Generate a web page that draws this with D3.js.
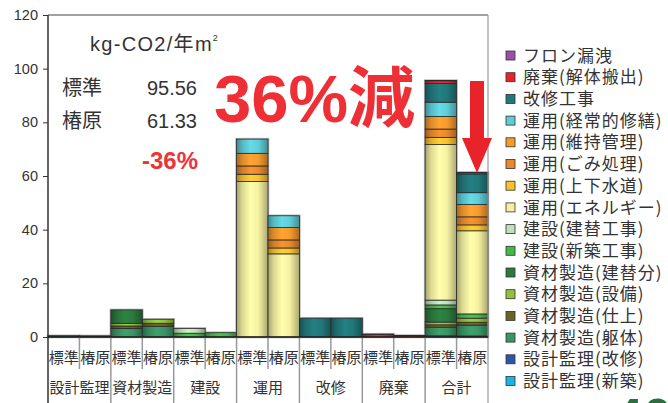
<!DOCTYPE html>
<html>
<head>
<meta charset="utf-8">
<script src="https://cdn.jsdelivr.net/npm/d3@7"></script>
<style>
  body { margin: 0; background: #fff; }
  svg { display: block; }
  text { font-family: "Liberation Sans", Arial, "Noto Sans CJK JP", sans-serif; fill: #333; }
  .jp { font-family: "Noto Sans CJK JP", sans-serif; }
</style>
</head>
<body>
<div id="chart"></div>
<script>
// categories / cases
const categories = ["設計監理", "資材製造", "建設", "運用", "改修", "廃棄", "合計"];
const cases = ["標準", "椿原"];
const yTicks = [0, 20, 40, 60, 80, 100, 120];

// series values, 14 bars: [設計監理 標準, 椿原, 資材製造 標準, 椿原, ... 合計 標準, 椿原]
const sekkeiShinchiku = [0.35, 0.3, 0, 0, 0, 0, 0, 0, 0, 0, 0, 0, 0.35, 0.3];
const sekkeiKaishu    = [0.1, 0.1, 0, 0, 0, 0, 0, 0, 0, 0, 0, 0, 0.1, 0.1];
const shizaiKutai     = [0, 0, 3.2, 4.0, 0, 0, 0, 0, 0, 0, 0, 0, 3.2, 4.0];
const shizaiShiage    = [0, 0, 0.9, 1.1, 0, 0, 0, 0, 0, 0, 0, 0, 0.9, 1.1];
const shizaiSetsubi   = [0, 0, 1.0, 1.5, 0, 0, 0, 0, 0, 0, 0, 0, 1.0, 1.5];
const shizaiTatekae   = [0, 0, 5.0, 0, 0, 0, 0, 0, 0, 0, 0, 0, 5.0, 0];
const kensetsuShin    = [0, 0, 0, 0, 1.4, 1.6, 0, 0, 0, 0, 0, 0, 1.4, 1.6];
const kensetsuTatekae = [0, 0, 0, 0, 1.8, 0, 0, 0, 0, 0, 0, 0, 1.8, 0];
const unyoEnergy      = [0, 0, 0, 0, 0, 0, 57.95, 30.98, 0, 0, 0, 0, 57.95, 30.98];
const unyoSuido       = [0, 0, 0, 0, 0, 0, 2.7, 2.2, 0, 0, 0, 0, 2.7, 2.2];
const unyoGomi        = [0, 0, 0, 0, 0, 0, 3.1, 3.0, 0, 0, 0, 0, 3.1, 3.0];
const unyoIji         = [0, 0, 0, 0, 0, 0, 4.7, 4.6, 0, 0, 0, 0, 4.7, 4.6];
const unyoShuzen      = [0, 0, 0, 0, 0, 0, 5.3, 4.4, 0, 0, 0, 0, 5.3, 4.4];
const kaishuKoji      = [0, 0, 0, 0, 0, 0, 0, 0, 7.0, 7.0, 0, 0, 7.0, 7.0];
const haiki           = [0, 0, 0, 0, 0, 0, 0, 0, 0, 0, 1.0, 0.5, 1.0, 0.5];
const fron            = [0, 0, 0, 0, 0, 0, 0, 0, 0, 0, 0.06, 0.05, 0.06, 0.05];

// stacking order bottom -> top
const seriesNames = ["設計監理(新築)", "設計監理(改修)", "資材製造(躯体)", "資材製造(仕上)", "資材製造(設備)",
  "資材製造(建替分)", "建設(新築工事)", "建設(建替工事)", "運用(エネルギー)", "運用(上下水道)",
  "運用(ごみ処理)", "運用(維持管理)", "運用(経常的修繕)", "改修工事", "廃棄(解体搬出)", "フロン漏洩"];
const seriesValues = [sekkeiShinchiku, sekkeiKaishu, shizaiKutai, shizaiShiage, shizaiSetsubi,
  shizaiTatekae, kensetsuShin, kensetsuTatekae, unyoEnergy, unyoSuido,
  unyoGomi, unyoIji, unyoShuzen, kaishuKoji, haiki, fron];
const seriesColors = ["#19b4e6", "#2c57a8", "#3a9566", "#6b6428", "#93c13c",
  "#2b7a3e", "#45b84a", "#bfe0bd", "#f4f0a0", "#f8c22e",
  "#e88a2c", "#f69a2e", "#5ecdd8", "#21777a", "#e8242a", "#9c4fa8"];

const width = 668, height = 403;
const plotL = 48, plotR = 488, plotT = 15, plotB = 337;

const svg = d3.select("#chart").append("svg").attr("width", width).attr("height", height);

// gradients, cylinder look
const defs = svg.append("defs");
seriesColors.forEach(function(c, i) {
  var g = defs.append("linearGradient").attr("id", "g" + i)
    .attr("x1", "0%").attr("x2", "100%").attr("y1", "0%").attr("y2", "0%");
  g.append("stop").attr("offset", "0%").attr("stop-color", d3.color(c).darker(1.1));
  g.append("stop").attr("offset", "18%").attr("stop-color", d3.color(c).darker(0.3));
  g.append("stop").attr("offset", "45%").attr("stop-color", d3.color(c).brighter(0.2));
  g.append("stop").attr("offset", "70%").attr("stop-color", c);
  g.append("stop").attr("offset", "100%").attr("stop-color", d3.color(c).darker(1.0));
});

// rows for stacking
var rows = [];
categories.forEach(function(cat, ci) {
  cases.forEach(function(cs, k) {
    var r = { cat: cat, cs: cs };
    seriesNames.forEach(function(s, si) { r[s] = seriesValues[si][ci * 2 + k]; });
    rows.push(r);
  });
});

const x0 = d3.scaleBand().domain(categories).range([plotL, plotR]).padding(0);
const x1 = d3.scaleBand().domain(cases).range([0, x0.bandwidth()]).padding(0);
const y = d3.scaleLinear().domain([0, 120]).range([plotB, plotT]);

const stacked = d3.stack().keys(seriesNames)(rows);

// gray halo behind bars
svg.append("g").selectAll("rect").data(rows).enter().append("rect")
  .attr("x", d => x0(d.cat) + x1(d.cs))
  .attr("width", x1.bandwidth())
  .attr("y", d => y(d3.sum(seriesNames, s => d[s])))
  .attr("height", d => plotB - y(d3.sum(seriesNames, s => d[s])))
  .attr("fill", "none").attr("stroke", "#b5b5b5").attr("stroke-width", 2.5);

// segments
svg.append("g").selectAll("g").data(stacked).enter().append("g")
  .attr("fill", (d, i) => "url(#g" + i + ")")
  .selectAll("rect").data(d => d.filter(p => p[1] - p[0] > 0)).enter().append("rect")
  .attr("x", d => x0(d.data.cat) + x1(d.data.cs))
  .attr("width", x1.bandwidth())
  .attr("y", d => y(d[1]))
  .attr("height", d => y(d[0]) - y(d[1]))
  .attr("stroke", "#2a2a2a").attr("stroke-width", 0.8);

// y axis
const yAxis = d3.axisLeft(y).tickValues(yTicks).tickSize(5).tickPadding(5);
const ya = svg.append("g").attr("transform", "translate(" + plotL + ",0)").call(yAxis);
ya.select(".domain").remove();
ya.selectAll("line").attr("stroke", "#333");
ya.selectAll("text").style("font-size", "14.5px").attr("fill", "#333");

// frame
svg.append("line").attr("x1", plotL).attr("x2", plotL).attr("y1", plotT).attr("y2", height)
  .attr("stroke", "#333").attr("stroke-width", 1.5);
svg.append("line").attr("x1", plotL).attr("x2", plotR).attr("y1", plotT).attr("y2", plotT)
  .attr("stroke", "#444").attr("stroke-width", 1.2);
svg.append("line").attr("x1", plotR).attr("x2", plotR).attr("y1", plotT).attr("y2", height)
  .attr("stroke", "#999").attr("stroke-width", 1.2);

// label row separators
var seps = [];
categories.forEach(function(cat, ci) {
  seps.push({ x: x0(cat) + x1.bandwidth(), full: false });
  if (ci < categories.length - 1) seps.push({ x: x0(cat) + x0.bandwidth(), full: true });
});
svg.append("g").selectAll("line").data(seps).enter().append("line")
  .attr("x1", d => d.x).attr("x2", d => d.x)
  .attr("y1", plotB).attr("y2", d => d.full ? height : 369)
  .attr("stroke", "#999").attr("stroke-width", 1.5);

svg.append("line").attr("x1", plotL).attr("x2", plotR).attr("y1", plotB).attr("y2", plotB)
  .attr("stroke", "#222").attr("stroke-width", 1.5);

// x labels
svg.append("g").selectAll("text").data(rows).enter().append("text")
  .attr("class", "jp")
  .attr("x", d => x0(d.cat) + x1(d.cs) + x1.bandwidth() / 2)
  .attr("y", 358).attr("dy", "0.35em")
  .attr("text-anchor", "middle").style("font-size", "15px")
  .text(d => d.cs);
svg.append("g").selectAll("text").data(categories).enter().append("text")
  .attr("class", "jp")
  .attr("x", d => x0(d) + x0.bandwidth() / 2)
  .attr("y", 388).attr("dy", "0.35em")
  .attr("text-anchor", "middle").style("font-size", "15px")
  .text(d => d);

// legend, top of stack first
const legend = svg.append("g").selectAll("g").data(seriesNames.slice().reverse()).enter().append("g")
  .attr("transform", (d, i) => "translate(506," + (55.5 + i * 21.7) + ")");
legend.append("rect").attr("x", 0).attr("y", -4.5).attr("width", 9).attr("height", 9)
  .attr("fill", d => seriesColors[seriesNames.indexOf(d)])
  .attr("stroke", "#333").attr("stroke-width", 0.8);
legend.append("text").attr("class", "jp").attr("x", 17).attr("dy", "0.36em")
  .style("font-size", "17px").style("letter-spacing", "1px").text(d => d);

// annotations
var unit = svg.append("text").attr("x", 90).attr("y", 51).style("font-size", "20px")
  .style("letter-spacing", "1.3px");
unit.append("tspan").text("kg-CO2/");
unit.append("tspan").attr("class", "jp").text("年");
unit.append("tspan").text("m");
unit.append("tspan").attr("dy", "-10").style("font-size", "9px").text("2");

svg.append("text").attr("class", "jp").attr("x", 62).attr("y", 95).style("font-size", "20px").text(cases[0]);
svg.append("text").attr("class", "jp").attr("x", 62).attr("y", 128).style("font-size", "20px").text(cases[1]);
svg.append("text").attr("x", 197).attr("y", 95).attr("text-anchor", "end").style("font-size", "20px").text("95.56");
svg.append("text").attr("x", 197).attr("y", 128).attr("text-anchor", "end").style("font-size", "20px").text("61.33");
svg.append("text").attr("x", 198).attr("y", 169).attr("text-anchor", "end")
  .style("font-size", "24px").style("font-weight", "bold").style("fill", "#ee3338").text("-36%");

var big = svg.append("text").attr("x", 214).attr("y", 122)
  .style("font-size", "67px").style("font-weight", "bold").style("fill", "#ee2f36");
big.append("tspan").text("36%");
big.append("tspan").attr("class", "jp").text("減");

svg.append("path")
  .attr("d", "M470,81 L484,81 L484,138 L492,138 L477,173 L462,138 L470,138 Z")
  .attr("fill", "#e8242a");

svg.append("text").attr("x", 614).attr("y", 435)
  .style("font-size", "52px").style("font-weight", "bold").style("fill", "#2e6b40").text("40");
</script>
</body>
</html>
